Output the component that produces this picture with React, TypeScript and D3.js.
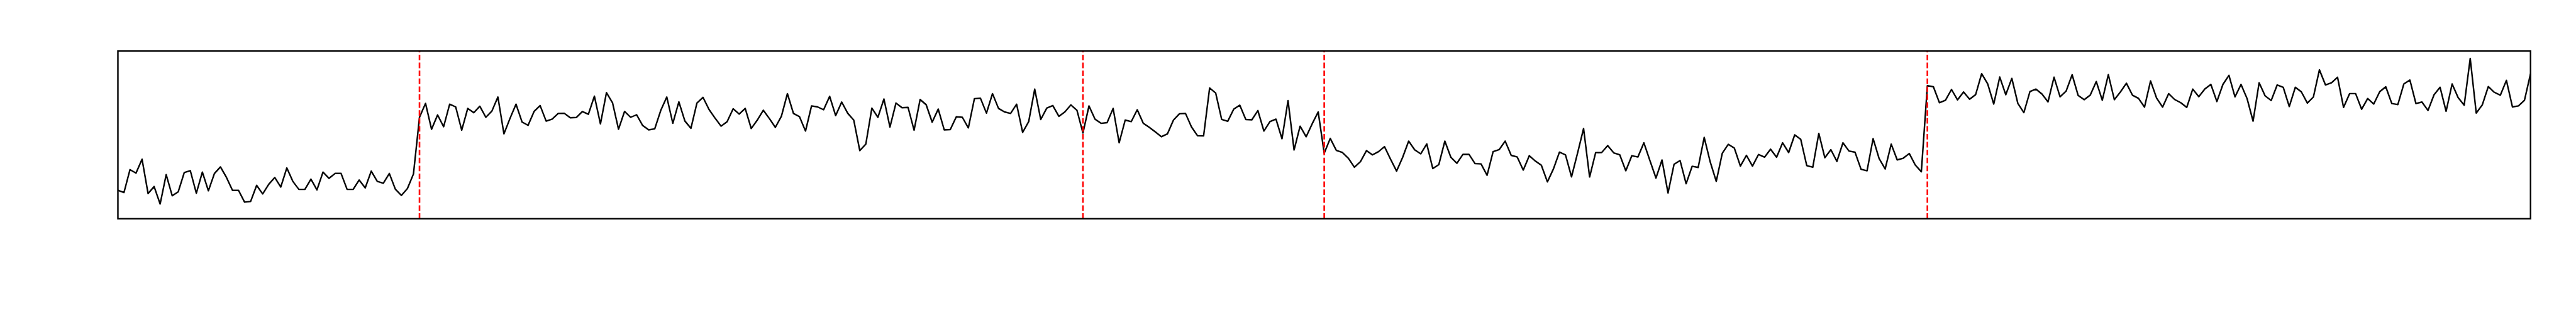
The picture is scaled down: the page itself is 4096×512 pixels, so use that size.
import React, { useEffect, useRef } from 'react';
import * as d3 from 'd3';

// signal, one array per regime (sample index 0..400)
const regime1 = [
  16.9, 15.6, 29.3, 27.2, 35.5, 15.0, 19.2, 8.8, 26.3, 13.7,
  16.1, 27.5, 28.7, 15.2, 27.8, 16.7, 27.0, 30.9, 24.6, 16.9,
  16.9, 9.9, 10.3, 19.9, 14.8, 20.5, 24.6, 18.9, 30.3, 22.3,
  17.5, 17.5, 23.6, 17.2, 27.8, 24.1, 27.0, 27.0, 17.5, 17.5,
  23.1, 18.4, 28.4, 22.3, 21.2, 27.0, 17.6, 13.9, 18.0, 26.7,
];

const regime2 = [
  60.5, 68.8, 53.4, 61.9, 54.9, 68.3, 66.7, 52.8, 65.8, 63.2,
  67.1, 60.5, 64.2, 72.6, 50.6, 59.8, 68.3, 57.7, 55.7, 64.0,
  67.5, 58.2, 59.4, 62.8, 62.9, 60.2, 60.4, 63.9, 62.3, 73.1,
  56.6, 75.2, 69.2, 53.4, 64.0, 60.5, 62.0, 55.6, 53.0, 53.6,
  64.6, 72.6, 56.9, 69.7, 58.3, 53.9, 69.0, 72.4, 65.2, 60.0,
  55.2, 57.9, 65.6, 62.4, 65.8, 53.8, 58.8, 64.7, 59.8, 54.5,
  61.1, 74.6, 62.8, 60.9, 52.3, 67.3, 66.7, 65.0, 73.0, 61.5,
  69.6, 62.9, 58.8, 40.6, 44.5, 66.0, 60.5, 71.4, 54.7, 69.0,
  66.2, 66.4, 52.8, 71.1, 68.0, 57.6, 65.4, 53.0, 53.2, 60.8,
  60.5, 54.2, 71.6, 71.9, 63.0, 74.6, 65.8, 63.7, 62.8, 68.3,
  51.5, 57.9, 77.3, 59.2, 66.0, 67.5, 61.1, 63.7, 67.9, 64.7,
];

const regime3 = [
  51.1, 67.3, 59.4, 56.9, 57.3, 65.8, 45.3, 58.8, 57.9, 65.0,
  56.9, 54.5, 51.8, 48.9, 50.6, 58.8, 62.6, 62.8, 54.7, 49.5,
  49.4, 78.0, 75.0, 59.2, 58.1, 65.4, 67.7, 59.2, 59.0, 64.5,
  52.3, 57.9, 59.4, 47.7, 70.5, 41.0, 55.2, 48.9, 56.6, 63.7,
];

const regime4 = [
  39.1, 47.9, 40.8, 39.5, 36.1, 30.7, 34.0, 40.6, 38.1, 40.0,
  43.0, 35.5, 28.4, 36.6, 46.3, 41.1, 38.7, 44.6, 29.9, 32.3,
  46.3, 36.6, 33.1, 38.4, 38.4, 32.9, 32.7, 25.9, 40.0, 41.2,
  46.3, 37.8, 36.8, 29.0, 37.6, 34.4, 31.9, 22.0, 29.7, 39.7,
  38.1, 25.0, 39.1, 53.8, 24.9, 39.4, 39.5, 43.6, 39.3, 38.1,
  28.6, 37.6, 36.8, 45.3, 34.7, 24.3, 35.0, 15.4, 32.5, 34.7,
  20.9, 31.3, 30.6, 48.5, 33.8, 22.3, 39.1, 44.4, 42.1, 31.4,
  37.8, 31.4, 38.3, 36.7, 41.5, 36.7, 45.3, 39.5, 50.0, 47.4,
  31.7, 30.7, 50.9, 36.4, 41.2, 34.2, 45.3, 40.4, 39.7, 29.5,
  28.6, 47.8, 35.9, 29.7, 44.5, 35.1, 36.1, 38.9, 32.0, 28.0,
];

const regime5 = [
  79.4, 78.7, 69.2, 70.7, 77.1, 70.9, 75.6, 71.3, 74.0, 86.5,
  80.4, 68.4, 84.5, 74.0, 83.7, 68.8, 63.3, 75.8, 77.3, 74.4,
  69.7, 84.4, 72.7, 76.1, 85.9, 73.5, 71.0, 73.7, 81.8, 70.7,
  85.9, 71.0, 75.6, 80.8, 73.7, 71.8, 66.6, 82.2, 72.0, 66.6,
  74.6, 71.1, 69.2, 66.4, 77.3, 72.8, 77.4, 80.1, 69.9, 80.1,
  85.5, 72.7, 80.1, 71.7, 58.2, 81.1, 73.3, 70.5, 79.8, 78.4,
  66.9, 78.4, 75.7, 69.0, 72.6, 88.8, 79.8, 81.1, 84.4, 66.4,
  74.6, 74.6, 65.3, 71.7, 68.4, 75.8, 78.7, 68.7, 68.1, 80.4,
  82.7, 68.7, 69.6, 64.6, 73.9, 78.4, 64.1, 80.4, 72.2, 67.7,
  95.6, 63.0, 67.9, 78.8, 75.4, 73.7, 82.5, 66.7, 67.3, 70.7,
  86.5,
];

// detected change points (sample index)
const breakpoints = [50, 160, 200, 300];

const signal = [...regime1, ...regime2, ...regime3, ...regime4, ...regime5];

const App = () => {
  const ref = useRef<SVGSVGElement>(null);

  useEffect(() => {
    const svg = d3.select(ref.current);
    svg.selectAll('*').remove();

    const width = 4096,
      height = 512;
    const margin = { top: 81.2, right: 72.3, bottom: 164.2, left: 187.5 };

    const x = d3
      .scaleLinear()
      .domain([0, signal.length - 1])
      .range([margin.left, width - margin.right]);
    const y = d3
      .scaleLinear()
      .domain([0, 100])
      .range([height - margin.bottom, margin.top]);

    svg.append('rect').attr('width', width).attr('height', height).attr('fill', '#fff');

    // signal line
    const line = d3
      .line<number>()
      .x((d, i) => x(i))
      .y((d) => y(d));
    svg
      .append('path')
      .datum(signal)
      .attr('d', line)
      .attr('fill', 'none')
      .attr('stroke', '#000')
      .attr('stroke-width', 2.4)
      .attr('stroke-linejoin', 'round');

    // change points, dashes start at the bottom like matplotlib's axvline
    svg
      .selectAll('line.bkp')
      .data(breakpoints)
      .enter()
      .append('line')
      .attr('class', 'bkp')
      .attr('x1', (d) => x(d))
      .attr('x2', (d) => x(d))
      .attr('y1', y.range()[0])
      .attr('y2', y.range()[1])
      .attr('stroke', '#ff0000')
      .attr('stroke-width', 2.6)
      .attr('stroke-dasharray', '8.8,3.8');

    // frame
    svg
      .append('rect')
      .attr('x', margin.left)
      .attr('y', margin.top)
      .attr('width', width - margin.left - margin.right)
      .attr('height', height - margin.top - margin.bottom)
      .attr('fill', 'none')
      .attr('stroke', '#000')
      .attr('stroke-width', 2.4);
  }, []);

  return (
    <svg
      ref={ref}
      width={4096}
      height={512}
      style={{ position: 'absolute', left: 0, top: 0, display: 'block' }}
    />
  );
};

export default App;
